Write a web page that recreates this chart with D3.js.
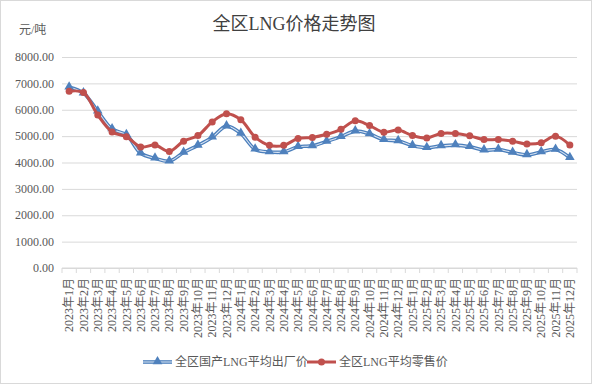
<!DOCTYPE html>
<html>
<head>
<meta charset="utf-8">
<script src="https://cdn.jsdelivr.net/npm/d3@7"></script>
<style>
  body { margin: 0; background: #fff; }
  svg { display: block; }
</style>
</head>
<body>
<div id="chart"></div>
<script>
// LNG price trend (元/吨), monthly 2023-01 .. 2025-12

const months = [];
[2023, 2024, 2025].forEach(y => {
    for (let m = 1; m <= 12; m++) months.push(`${y}年${m}月`);
});

const factoryPrice = [6850, 6630, 5940, 5270, 5050, 4350, 4160, 4050, 4380, 4650, 4960, 5380,
    5100, 4500, 4400, 4400, 4600, 4630, 4800, 4980, 5190, 5080, 4860, 4820,
    4640, 4560, 4630, 4660, 4600, 4470, 4490, 4380, 4290, 4400, 4490, 4180];

const retailPrice = [6700, 6650, 5800, 5160, 4980, 4590, 4660, 4420, 4810, 5020, 5540, 5850,
    5620, 4960, 4650, 4650, 4910, 4950, 5070, 5260, 5580, 5400, 5150, 5230,
    5020, 4930, 5100, 5100, 5010, 4870, 4870, 4810, 4700, 4750, 5000, 4660];

const yTicks = [0, 1000, 2000, 3000, 4000, 5000, 6000, 7000, 8000];

const seriesNames = ['全区国产LNG平均出厂价', '全区LNG平均零售价'];

function drawChart() {
    const W = 592, H = 384;
    const left = 62, right = 577, top = 57, bottom = 268;
    const font = '"Liberation Serif", "Noto Sans CJK SC", serif';
    const grey = '#595959';

    const svg = d3.select('#chart').append('svg')
        .attr('width', W)
        .attr('height', H);

    svg.append('rect')
        .attr('x', 0.5).attr('y', 0.5)
        .attr('width', W - 1).attr('height', H - 1)
        .attr('fill', '#fff')
        .attr('stroke', '#d9d9d9');

    const x = d3.scaleBand()
        .domain(months)
        .range([left, right]);

    const y = d3.scaleLinear()
        .domain([0, 8000])
        .range([bottom, top]);

    // Grid
    svg.append('g')
        .attr('transform', `translate(${left},0)`)
        .call(d3.axisLeft(y).tickValues(yTicks).tickSize(-(right - left)).tickFormat(''))
        .call(g => g.select('.domain').remove())
        .call(g => g.selectAll('line').attr('stroke', '#d9d9d9'));

    // Y labels
    svg.append('g')
        .selectAll('text')
        .data(yTicks)
        .join('text')
        .attr('x', 54)
        .attr('y', d => y(d))
        .attr('dy', '0.35em')
        .attr('text-anchor', 'end')
        .attr('font-family', font)
        .attr('font-size', '12px')
        .attr('fill', grey)
        .text(d => d.toFixed(2));

    // X axis
    const xAxis = svg.append('g').attr('transform', `translate(0,${bottom})`);
    xAxis.append('line')
        .attr('x1', left).attr('x2', right)
        .attr('stroke', '#d9d9d9');
    xAxis.selectAll('.tick-mark')
        .data(months.concat(['end']))
        .join('line')
        .attr('x1', (d, i) => left + i * x.step())
        .attr('x2', (d, i) => left + i * x.step())
        .attr('y2', 5)
        .attr('stroke', '#d9d9d9');
    xAxis.selectAll('text')
        .data(months)
        .join('text')
        .attr('transform', d => `translate(${x(d) + x.bandwidth() / 2},10) rotate(-90)`)
        .attr('text-anchor', 'end')
        .attr('dy', '0.35em')
        .attr('font-family', font)
        .attr('font-size', '12px')
        .attr('fill', grey)
        .text(d => d);

    const cx = (d, i) => x(months[i]) + x.bandwidth() / 2;
    const line = d3.line()
        .x(cx)
        .y(d => y(d))
        .curve(d3.curveCatmullRom.alpha(0.5));

    // Factory price: double blue line with triangles
    svg.append('path')
        .datum(factoryPrice)
        .attr('fill', 'none')
        .attr('stroke', '#4a7ebb')
        .attr('stroke-width', 3.6)
        .attr('d', line);
    svg.append('path')
        .datum(factoryPrice)
        .attr('fill', 'none')
        .attr('stroke', '#d6e2f2')
        .attr('stroke-width', 1.1)
        .attr('d', line);
    svg.append('g')
        .selectAll('path')
        .data(factoryPrice)
        .join('path')
        .attr('transform', (d, i) => `translate(${cx(d, i)},${y(d) - 0.5})`)
        .attr('d', d3.symbol(d3.symbolTriangle, 40))
        .attr('fill', '#4f81bd');

    // Retail price: red line with circles
    svg.append('path')
        .datum(retailPrice)
        .attr('fill', 'none')
        .attr('stroke', '#c0504d')
        .attr('stroke-width', 3)
        .attr('d', line);
    svg.append('g')
        .selectAll('circle')
        .data(retailPrice)
        .join('circle')
        .attr('cx', cx)
        .attr('cy', d => y(d))
        .attr('r', 3.5)
        .attr('fill', '#c0504d');

    // Title & unit
    svg.append('text')
        .attr('x', 294)
        .attr('y', 30)
        .attr('text-anchor', 'middle')
        .attr('font-family', font)
        .attr('font-size', '18px')
        .attr('fill', '#404040')
        .text('全区LNG价格走势图');

    svg.append('text')
        .attr('x', 19)
        .attr('y', 34)
        .attr('font-family', font)
        .attr('font-size', '12px')
        .attr('fill', grey)
        .text('元/吨');

    // Legend
    const legend = svg.append('g').attr('transform', 'translate(0,362)');
    legend.append('line')
        .attr('x1', 143).attr('x2', 172)
        .attr('stroke', '#4a7ebb').attr('stroke-width', 3.6);
    legend.append('line')
        .attr('x1', 143).attr('x2', 172)
        .attr('stroke', '#d6e2f2').attr('stroke-width', 1.1);
    legend.append('path')
        .attr('transform', 'translate(157.5,-0.5)')
        .attr('d', d3.symbol(d3.symbolTriangle, 40))
        .attr('fill', '#4f81bd');
    legend.append('text')
        .attr('x', 175)
        .attr('dy', '0.35em')
        .attr('font-family', font)
        .attr('font-size', '12px')
        .attr('fill', grey)
        .text(seriesNames[0]);

    legend.append('line')
        .attr('x1', 307).attr('x2', 336)
        .attr('stroke', '#c0504d').attr('stroke-width', 3);
    legend.append('circle')
        .attr('cx', 321.5)
        .attr('r', 3.5)
        .attr('fill', '#c0504d');
    legend.append('text')
        .attr('x', 339)
        .attr('dy', '0.35em')
        .attr('font-family', font)
        .attr('font-size', '12px')
        .attr('fill', grey)
        .text(seriesNames[1]);
}

drawChart();
</script>
</body>
</html>
